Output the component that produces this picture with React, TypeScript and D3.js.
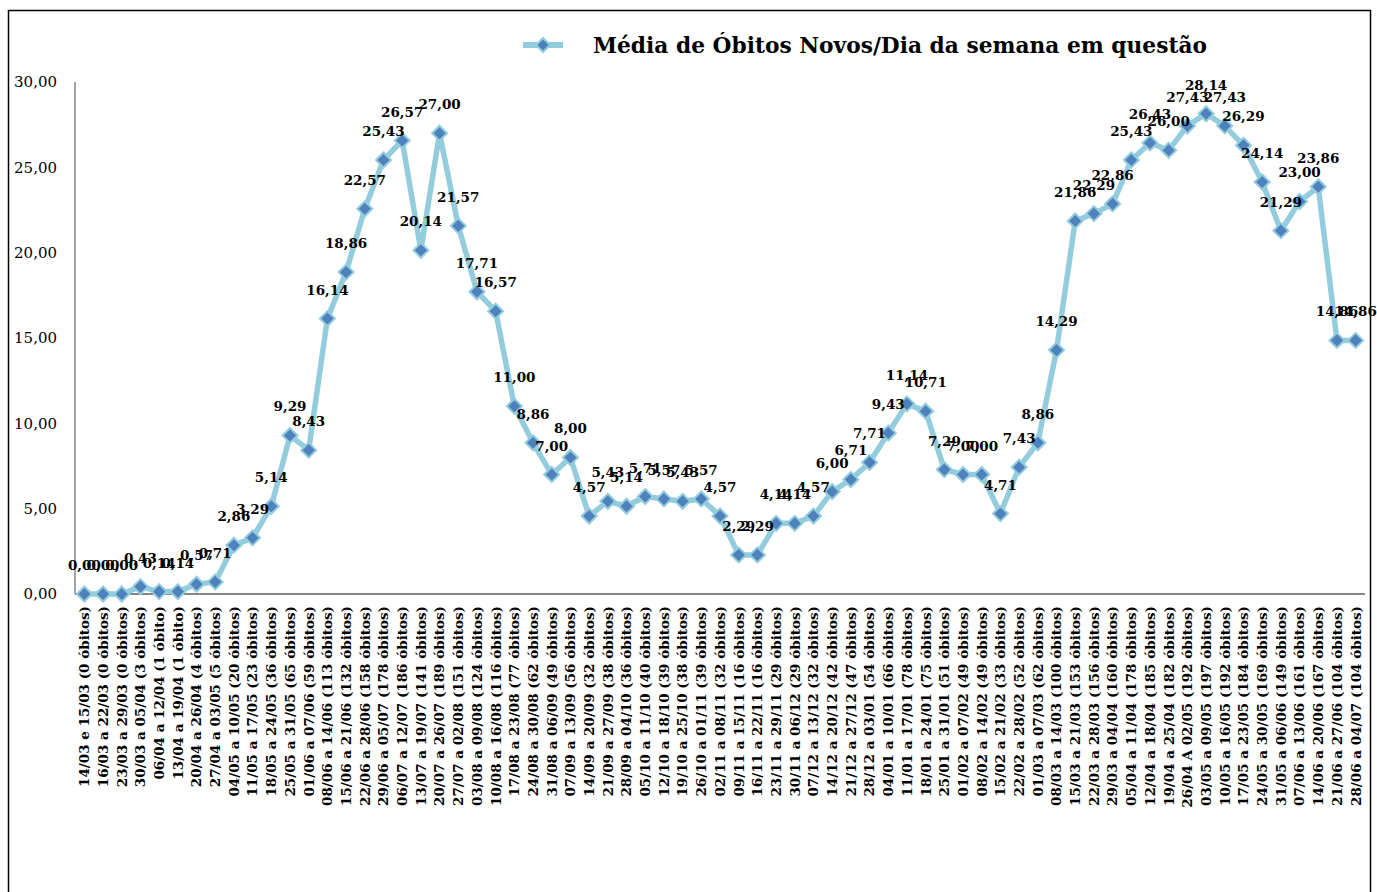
import React from "react";
import * as d3 from "d3";

const categories: string[] = [
  "14/03 e 15/03 (0 óbitos)",
  "16/03 a 22/03 (0 óbitos)",
  "23/03 a 29/03 (0 óbitos)",
  "30/03 a 05/04 (3 óbitos)",
  "06/04 a 12/04 (1 óbito)",
  "13/04 a 19/04 (1 óbito)",
  "20/04 a 26/04 (4 óbitos)",
  "27/04 a 03/05 (5 óbitos)",
  "04/05 a 10/05 (20 óbitos)",
  "11/05 a 17/05 (23 óbitos)",
  "18/05 a 24/05 (36 óbitos)",
  "25/05 a 31/05 (65 óbitos)",
  "01/06 a 07/06 (59 óbitos)",
  "08/06 a 14/06 (113 óbitos)",
  "15/06 a 21/06 (132 óbitos)",
  "22/06 a 28/06 (158 óbitos)",
  "29/06 a 05/07 (178 óbitos)",
  "06/07 a 12/07 (186 óbitos)",
  "13/07 a 19/07 (141 óbitos)",
  "20/07 a 26/07 (189 óbitos)",
  "27/07 a 02/08 (151 óbitos)",
  "03/08 a 09/08 (124 óbitos)",
  "10/08 a 16/08 (116 óbitos)",
  "17/08 a 23/08 (77 óbitos)",
  "24/08 a 30/08 (62 óbitos)",
  "31/08 a 06/09 (49 óbitos)",
  "07/09 a 13/09 (56 óbitos)",
  "14/09 a 20/09 (32 óbitos)",
  "21/09 a 27/09 (38 óbitos)",
  "28/09 a 04/10 (36 óbitos)",
  "05/10 a 11/10 (40 óbitos)",
  "12/10 a 18/10 (39 óbitos)",
  "19/10 a 25/10 (38 óbitos)",
  "26/10 a 01/11 (39 óbitos)",
  "02/11 a 08/11 (32 óbitos)",
  "09/11 a 15/11 (16 óbitos)",
  "16/11 a 22/11 (16 óbitos)",
  "23/11 a 29/11 (29 óbitos)",
  "30/11 a 06/12 (29 óbitos)",
  "07/12 a 13/12 (32 óbitos)",
  "14/12 a 20/12 (42 óbitos)",
  "21/12 a 27/12 (47 óbitos)",
  "28/12 a 03/01 (54 óbitos)",
  "04/01 a 10/01 (66 óbitos)",
  "11/01 a 17/01 (78 óbitos)",
  "18/01 a 24/01 (75 óbitos)",
  "25/01 a 31/01 (51 óbitos)",
  "01/02 a 07/02 (49 óbitos)",
  "08/02 a 14/02 (49 óbitos)",
  "15/02 a 21/02 (33 óbitos)",
  "22/02 a 28/02 (52 óbitos)",
  "01/03 a 07/03 (62 óbitos)",
  "08/03 a 14/03 (100 óbitos)",
  "15/03 a 21/03 (153 óbitos)",
  "22/03 a 28/03 (156 óbitos)",
  "29/03 a 04/04 (160 óbitos)",
  "05/04 a 11/04 (178 óbitos)",
  "12/04 a 18/04 (185 óbitos)",
  "19/04 a 25/04 (182 óbitos)",
  "26/04 A 02/05 (192 óbitos)",
  "03/05 a 09/05 (197 óbitos)",
  "10/05 a 16/05 (192 óbitos)",
  "17/05 a 23/05 (184 óbitos)",
  "24/05 a 30/05 (169 óbitos)",
  "31/05 a 06/06 (149 óbitos)",
  "07/06 a 13/06 (161 óbitos)",
  "14/06 a 20/06 (167 óbitos)",
  "21/06 a 27/06 (104 óbitos)",
  "28/06 a 04/07 (104 óbitos)",
];

const values: number[] = [
  0.0, 0.0, 0.0, 0.43, 0.14, 0.14, 0.57, 0.71, 2.86, 3.29,
  5.14, 9.29, 8.43, 16.14, 18.86, 22.57, 25.43, 26.57, 20.14, 27.0,
  21.57, 17.71, 16.57, 11.0, 8.86, 7.0, 8.0, 4.57, 5.43, 5.14,
  5.71, 5.57, 5.43, 5.57, 4.57, 2.29, 2.29, 4.14, 4.14, 4.57,
  6.0, 6.71, 7.71, 9.43, 11.14, 10.71, 7.29, 7.0, 7.0, 4.71,
  7.43, 8.86, 14.29, 21.86, 22.29, 22.86, 25.43, 26.43, 26.0, 27.43,
  28.14, 27.43, 26.29, 24.14, 21.29, 23.0, 23.86, 14.86, 14.86,
];

const yTicks: number[] = [0, 5, 10, 15, 20, 25, 30];
const seriesName = "Média de Óbitos Novos/Dia da semana em questão";

const W = 1377;
const H = 892;
const plotLeft = 75;
const plotRight = 1365;
const plotTop = 82;
const plotBottom = 594;

const LINE = "#93CDDD";
const FILL = "#4F81BD";
const SERIF = "'DejaVu Serif', 'Liberation Serif', serif";

const fmt = (v: number) => v.toFixed(2).replace(".", ",");

export default function App() {
  const x = d3
    .scaleBand<string>()
    .domain(categories)
    .range([plotLeft, plotRight])
    .paddingInner(0)
    .paddingOuter(0);
  const y = d3.scaleLinear().domain([0, 30]).range([plotBottom, plotTop]);
  const cx = (i: number) => (x(categories[i]) as number) + x.bandwidth() / 2;

  const line = d3
    .line<number>()
    .x((_, i) => cx(i))
    .y((d) => y(d));

  const diamond = (px: number, py: number, r: number) =>
    `M${px},${py - r}L${px + r},${py}L${px},${py + r}L${px - r},${py}Z`;

  return (
    <svg
      width={W}
      height={H}
      style={{ position: "absolute", left: 0, top: 0, background: "#fff" }}
    >
      <rect x={0} y={0} width={W} height={H} fill="#fff" />
      <rect
        x={8.5}
        y={10.5}
        width={1362}
        height={900}
        fill="none"
        stroke="#000"
        strokeWidth={1.5}
      />

      {/* legend */}
      <line x1={523} x2={563} y1={45} y2={45} stroke={LINE} strokeWidth={6} />
      <path d={diamond(543, 45, 7)} fill={FILL} stroke={LINE} strokeWidth={2} />
      <text
        x={593}
        y={53}
        fontFamily={SERIF}
        fontWeight="bold"
        fontSize={23}
        textLength={614}
        lengthAdjust="spacingAndGlyphs"
        fill="#000"
      >
        {seriesName}
      </text>

      {/* y axis */}
      <line
        x1={plotLeft}
        x2={plotLeft}
        y1={plotTop}
        y2={plotBottom}
        stroke="#868686"
        strokeWidth={1.5}
      />
      {yTicks.map((t) => (
        <text
          key={t}
          x={57}
          y={y(t)}
          dy="0.36em"
          textAnchor="end"
          fontFamily={SERIF}
          fontSize={15}
          fill="#000"
        >
          {fmt(t)}
        </text>
      ))}

      {/* x axis */}
      <line
        x1={plotLeft}
        x2={plotRight}
        y1={plotBottom}
        y2={plotBottom}
        stroke="#868686"
        strokeWidth={2}
      />
      {categories.map((c, i) => (
        <text
          key={c}
          transform={`translate(${cx(i)},606) rotate(-90)`}
          dy="0.36em"
          textAnchor="end"
          fontFamily={SERIF}
          fontWeight="bold"
          fontSize={13.5}
          fill="#000"
        >
          {c}
        </text>
      ))}

      {/* series */}
      <path
        d={line(values) || ""}
        fill="none"
        stroke={LINE}
        strokeWidth={5.5}
        strokeLinejoin="round"
      />
      {values.map((v, i) => (
        <path
          key={i}
          d={diamond(cx(i), y(v), 7.5)}
          fill={FILL}
          stroke={LINE}
          strokeWidth={2}
        />
      ))}
      {values.map((v, i) => (
        <text
          key={i}
          x={cx(i)}
          y={y(v) - 24}
          textAnchor="middle"
          fontFamily={SERIF}
          fontWeight="bold"
          fontSize={13.5}
          fill="#000"
        >
          {fmt(v)}
        </text>
      ))}
    </svg>
  );
}
